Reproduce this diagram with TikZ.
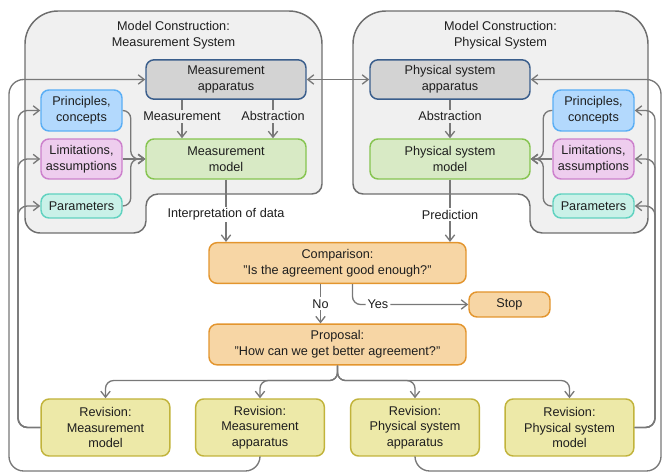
\documentclass[tikz,border=0pt]{standalone}
\usepackage{fontspec}
\setmainfont{Liberation Sans}
\usetikzlibrary{arrows.meta}

\definecolor{regionbg}{HTML}{F0F0F0}
\definecolor{regionln}{HTML}{6E6E6E}
\definecolor{arrowc}{HTML}{787878}
\definecolor{textc}{HTML}{1E1E1E}
\definecolor{appfill}{HTML}{D3D3D3}
\definecolor{appline}{HTML}{3A5E8C}
\definecolor{modfill}{HTML}{D8EAC5}
\definecolor{modline}{HTML}{86C450}
\definecolor{prinfill}{HTML}{B3D9FD}
\definecolor{prinline}{HTML}{5AAEF5}
\definecolor{limfill}{HTML}{EECDEE}
\definecolor{limline}{HTML}{CC80CC}
\definecolor{parfill}{HTML}{C9F1E8}
\definecolor{parline}{HTML}{60D2C0}
\definecolor{orfill}{HTML}{F7D6A5}
\definecolor{orline}{HTML}{E3952E}
\definecolor{revfill}{HTML}{EDE9A8}
\definecolor{revline}{HTML}{C1B33B}

\tikzset{every picture/.style={line width=0.75pt}}
\tikzset{
  txt/.style={font=\fontsize{9.5}{11.8}\selectfont, text=textc, align=center},
  box/.style={txt, draw, rounded corners=6pt, line width=1.1pt, inner sep=0pt},
  appbox/.style={box, fill=appfill, draw=appline, minimum width=120pt, minimum height=29.5pt},
  modbox/.style={box, fill=modfill, draw=modline, minimum width=120pt, minimum height=30pt},
  prinbox/.style={box, fill=prinfill, draw=prinline, minimum width=60.75pt, minimum height=30.75pt},
  limbox/.style={box, fill=limfill, draw=limline, minimum width=60.75pt, minimum height=30pt},
  parbox/.style={box, fill=parfill, draw=parline, minimum width=60.75pt, minimum height=18pt},
  orbox/.style={box, fill=orfill, draw=orline, minimum width=192.75pt, minimum height=30.5pt},
  revbox/.style={box, fill=revfill, draw=revline, minimum width=96.5pt, minimum height=42.75pt},
  region/.style={draw=regionln, fill=regionbg, line width=1.1pt},
  arr/.style={draw=arrowc, line width=1pt, -{Straight Barb[length=4.5pt,width=7pt]}},
  lbl/.style={txt, fill=regionbg, inner sep=1.5pt},
  lblw/.style={txt, fill=white, inner sep=1.5pt}
}

\begin{document}
\begin{tikzpicture}[x=0.75pt,y=0.75pt,yscale=-1,xscale=1]
\useasboundingbox (0,0) rectangle (662,473);

%Region: Measurement System
\draw[region] (58,11) -- (289,11) arc[start angle=-90,end angle=0,radius=33] -- (322,184) arc[start angle=0,end angle=90,radius=10] -- (158,194) arc[start angle=-90,end angle=-180,radius=12] -- (146,221) arc[start angle=0,end angle=90,radius=12] -- (40,233) arc[start angle=90,end angle=180,radius=15] -- (25,44) arc[start angle=180,end angle=270,radius=33] -- cycle ;
%Region: Physical System
\draw[region] (386,11) -- (615,11) arc[start angle=-90,end angle=0,radius=33] -- (648,218) arc[start angle=0,end angle=90,radius=15] -- (542,233) arc[start angle=90,end angle=180,radius=12] -- (530,206) arc[start angle=0,end angle=-90,radius=12] -- (363,194) arc[start angle=90,end angle=180,radius=10] -- (353,44) arc[start angle=180,end angle=270,radius=33] -- cycle ;

% Text Node
\node[txt] (ltitle) at (173.5,35.5) {Model Construction:\\Measurement System};
% Text Node
\node[txt] (rtitle) at (500.5,35.5) {Model Construction:\\Physical System};

%Boxes
\node[appbox] (mapp) at (226,79.5) {Measurement\\apparatus};
\node[modbox] (mmod) at (226,159) {Measurement\\model};
\node[prinbox] (lprin) at (81.5,110.5) {Principles,\\concepts};
\node[limbox] (llim) at (81.5,159) {Limitations,\\assumptions};
\node[parbox] (lpar) at (81.5,206) {Parameters};
\node[appbox] (papp) at (450,79.5) {Physical system\\apparatus};
\node[modbox] (pmod) at (450,159) {Physical system\\model};
\node[prinbox] (rprin) at (593.5,110.5) {Principles,\\concepts};
\node[limbox] (rlim) at (593.5,159) {Limitations,\\assumptions};
\node[parbox] (rpar) at (593.5,206) {Parameters};
\node[orbox] (comp) at (337.5,263) {Comparison:\\"Is the agreement good enough?"};
\node[orbox, minimum width=60.75pt, minimum height=18.75pt] (stop) at (509.5,304.5) {Stop};
\node[orbox] (prop) at (337.5,344.5) {Proposal:\\"How can we get better agreement?"};
\node[revbox] (rmm) at (105.5,427.5) {Revision:\\Measurement\\model};
\node[revbox] (rma) at (260,427.5) {Revision:\\Measurement\\apparatus};
\node[revbox] (rpa) at (415,427.5) {Revision:\\Physical system\\apparatus};
\node[revbox] (rpm) at (569.5,427.5) {Revision:\\Physical system\\model};

%Free ends of the feedback loops
\coordinate (lin) at (18,300);
\coordinate (lout) at (9,471);
\coordinate (rin) at (655,300);
\coordinate (rout) at (661,471);

%Straight Lines
\draw[arr] ([xshift=-33pt]mapp.south) -- node[lbl,pos=0.43] {Measurement} ([xshift=-33pt]mmod.north) ;
\draw[arr] ([xshift=35.25pt]mapp.south) -- node[lbl,pos=0.43] {Abstraction} ([xshift=35.25pt]mmod.north) ;
\draw[arr] (papp.south) -- node[lbl,pos=0.43] {Abstraction} (pmod.north) ;
\draw[arr, {Straight Barb[length=4.5pt,width=7pt]}-{Straight Barb[length=4.5pt,width=7pt]}] (mapp.east) -- (papp.west) ;

%Inputs to the models
\draw[arr, rounded corners=6pt] (lprin.east) -- ++(8,0) |- (mmod.west) ;
\draw[arr] (llim.east) -- (mmod.west) ;
\draw[arr, rounded corners=6pt] (lpar.east) -- ++(8,0) |- (mmod.west) ;
\draw[arr, rounded corners=6pt] (rprin.west) -- ++(-9,0) |- (pmod.east) ;
\draw[arr] (rlim.west) -- (pmod.east) ;
\draw[arr, rounded corners=6pt] (rpar.west) -- ++(-9,0) |- (pmod.east) ;

%Comparison and proposal
\draw[arr] (mmod.south) -- node[lblw,pos=0.56] {Interpretation of data} (mmod.south |- comp.north) ;
\draw[arr] (pmod.south) -- node[lblw,pos=0.56] {Prediction} (pmod.south |- comp.north) ;
\draw[arr] ([xshift=-12.75pt]comp.south) -- node[lblw] {No} ([xshift=-12.75pt]prop.north) ;
\draw[arr, rounded corners=6pt] ([xshift=11.25pt]comp.south) |- node[lblw,pos=0.61] {Yes} (stop.west) ;

%Curve Lines: proposal to revisions
\draw[arr, rounded corners=6pt] (prop.south) -- ++(0,15) -| (rmm.north) ;
\draw[arr, rounded corners=6pt] (prop.south) -- ++(0,15) -| (rma.north) ;
\draw[arr, rounded corners=6pt] (prop.south) -- ++(0,15) -| (rpa.north) ;
\draw[arr, rounded corners=6pt] (prop.south) -- ++(0,15) -| (rpm.north) ;

%Curve Lines: feedback, left
\draw[arr, rounded corners=7pt] (rmm.west) -| (lin |- lprin.west) -- (lprin.west) ;
\draw[arr, rounded corners=7pt] (rmm.west) -| (lin |- llim.west) -- (llim.west) ;
\draw[arr, rounded corners=7pt] (rmm.west) -| (lin |- lpar.west) -- (lpar.west) ;
\draw[arr, rounded corners=11pt] (rma.south) |- (lout) |- (mapp.west) ;

%Curve Lines: feedback, right
\draw[arr, rounded corners=7pt] (rpm.east) -| (rin |- rprin.east) -- (rprin.east) ;
\draw[arr, rounded corners=7pt] (rpm.east) -| (rin |- rlim.east) -- (rlim.east) ;
\draw[arr, rounded corners=7pt] (rpm.east) -| (rin |- rpar.east) -- (rpar.east) ;
\draw[arr, rounded corners=11pt] (rpa.south) |- (rout) |- (papp.east) ;

\end{tikzpicture}
\end{document}
